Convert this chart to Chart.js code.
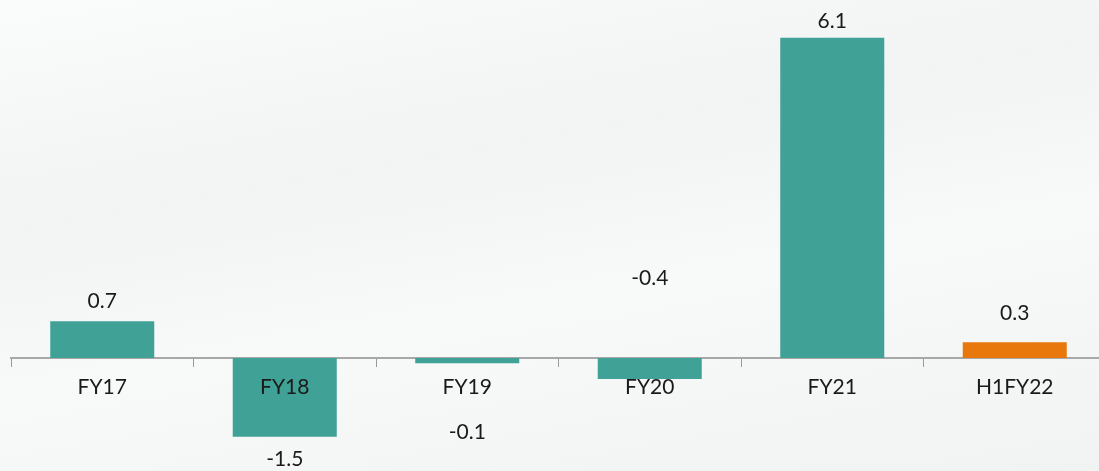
<!DOCTYPE html>
<html>
<head>
<meta charset="utf-8">
<script src="https://cdn.jsdelivr.net/npm/chart.js@4/dist/chart.umd.min.js"></script>
<style>
  html, body { margin: 0; padding: 0; overflow: hidden; background: #f6f7f7; }
  #wrap { position: relative; width: 1106px; height: 471px;
    background: linear-gradient(170deg, #fafbfb 0%, #f2f4f4 35%, #f8f9f9 60%, #f1f3f3 100%); }
</style>
</head>
<body>
<div id="wrap"><canvas id="c"></canvas></div>
<script>
const categories = ["FY17", "FY18", "FY19", "FY20", "FY21", "H1FY22"];
const values = [0.7, -1.5, -0.1, -0.4, 6.1, 0.3];
const valueLabels = ["0.7", "-1.5", "-0.1", "-0.4", "6.1", "0.3"];
const barColors = ["#40a297", "#40a297", "#40a297", "#40a297", "#40a297", "#e8780b"];
// label offset from bar end (px)
const labelOffsets = [-20, 22, 69, -101, -17, -29];

const FONT = "Lato, 'DejaVu Sans', sans-serif";

const valueLabelPlugin = {
  id: 'valueLabels',
  afterDatasetsDraw(chart) {
    const ctx = chart.ctx;
    const meta = chart.getDatasetMeta(0);
    ctx.save();
    ctx.font = "21px " + FONT;
    ctx.fillStyle = "#1a1a1a";
    ctx.textAlign = "center";
    ctx.textBaseline = "middle";
    meta.data.forEach((bar, i) => {
      ctx.fillText(valueLabels[i], bar.x, bar.y + labelOffsets[i]);
    });
    ctx.restore();
  }
};

new Chart(document.getElementById('c'), {
  type: 'bar',
  data: {
    labels: categories,
    datasets: [{
      data: values,
      backgroundColor: barColors,
      borderWidth: 0,
      categoryPercentage: 0.57,
      barPercentage: 1.0
    }]
  },
  options: {
    responsive: true,
    maintainAspectRatio: false,
    animation: false,
    layout: { padding: { left: 11, right: 0, top: 0, bottom: 0 } },
    plugins: { legend: { display: false }, tooltip: { enabled: false } },
    scales: {
      y: {
        display: false,
        min: -2.15,
        max: 6.82
      },
      x: {
        position: { y: 0 },
        afterFit: s => { s.height = 0; },
        grid: {
          offset: true,
          drawOnChartArea: false,
          drawTicks: true,
          tickLength: 8,
          color: '#9a9a9a',
          lineWidth: 1
        },
        border: { display: true, color: '#a8a8a8', width: 2 },
        ticks: {
          z: 1,
          color: '#1a1a1a',
          font: { family: FONT, size: 21 },
          padding: 9,
          maxRotation: 0
        }
      }
    }
  },
  plugins: [valueLabelPlugin]
});
</script>
</body>
</html>
